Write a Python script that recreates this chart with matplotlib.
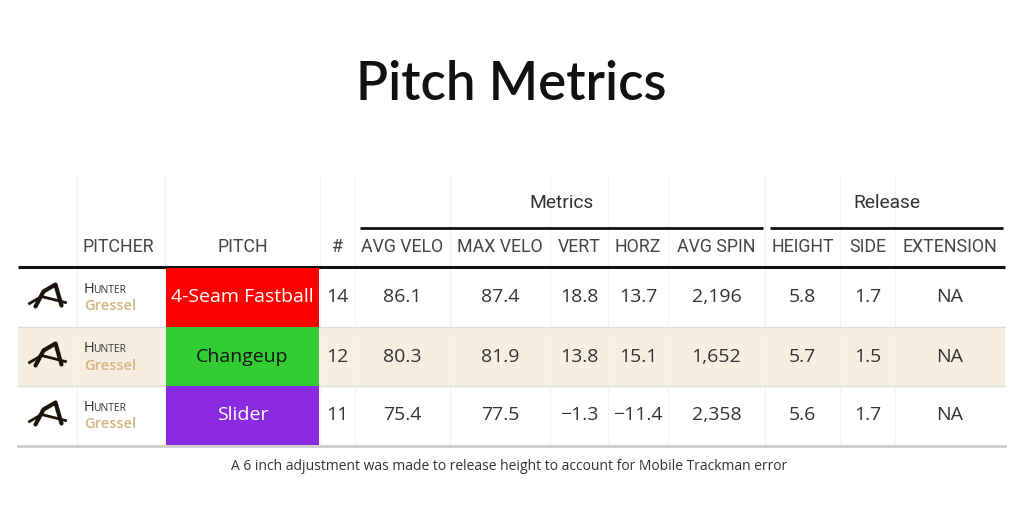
import numpy as np
import matplotlib.pyplot as plt
from matplotlib.patches import Rectangle

# table data
pitcher_first = ['Hunter', 'Hunter', 'Hunter']
pitcher_last = ['Gressel', 'Gressel', 'Gressel']
pitches = ['4-Seam Fastball', 'Changeup', 'Slider']
pitch_colors = ['#ff0000', '#32cd32', '#8a2be2']
pitch_text = ['white', '#111111', 'white']
counts = [14, 12, 11]
avg_velo = [86.1, 80.3, 75.4]
max_velo = [87.4, 81.9, 77.5]
vert = [18.8, 13.8, -1.3]
horz = [13.7, 15.1, -11.4]
avg_spin = [2196, 1652, 2358]
height = [5.8, 5.7, 5.6]
side = [1.7, 1.5, 1.7]
extension = ['NA', 'NA', 'NA']

col_labels = ['', 'PITCHER', 'PITCH', '#', 'AVG VELO', 'MAX VELO', 'VERT', 'HORZ',
              'AVG SPIN', 'HEIGHT', 'SIDE', 'EXTENSION']
col_edges = [18, 77, 165, 320, 355, 450, 550, 608, 668, 765, 840, 895, 1005]
groups = [('Metrics', 4, 8), ('Release', 9, 11)]

FONT = 'Open Sans'
plt.rcParams['font.family'] = [FONT, 'DejaVu Sans']

W, H = 1018, 512
fig = plt.figure(figsize=(W / 100, H / 100), dpi=100)
ax = fig.add_axes([0, 0, 1, 1])
ax.set_xlim(0, W)
ax.set_ylim(H, 0)
ax.axis('off')

ax.text(W / 2 + 2, 84, 'Pitch Metrics', ha='center', va='center', fontsize=38,
        fontweight='semibold', color='#111111', family='Lato')

row_top = 268
row_h = 59
n = len(pitches)

def fmt(v):
    s = f'{v:.1f}'
    return s.replace('-', '\u2212')

# row backgrounds
for i in range(n):
    y0 = row_top + i * row_h
    if i % 2 == 1:
        ax.add_patch(Rectangle((col_edges[0], y0), col_edges[-1] - col_edges[0], row_h,
                               color='#f6eee1', lw=0, zorder=0))
    if i > 0:
        ax.plot([col_edges[0], col_edges[-1]], [y0, y0], color='#dedede', lw=1, zorder=1)

# faint column separators
for x in col_edges[1:-1]:
    ax.plot([x, x], [175, row_top + n * row_h], color='#f2f2f2', lw=0.8, zorder=0.5)

# group headers
for name, c0, c1 in groups:
    xa = col_edges[c0] + 5
    xb = col_edges[c1 + 1] - 2
    ax.text((xa + xb) / 2, 203, name, ha='center', va='center', fontsize=13.8, color='#333333',
            family='Roboto')
    ax.plot([xa, xb], [228, 228], color='#111111', lw=2, solid_capstyle='butt')

# column headers
for j, lab in enumerate(col_labels):
    if not lab:
        continue
    xc = (col_edges[j] + col_edges[j + 1]) / 2
    ha = 'center'
    if j == 1:
        xc = col_edges[j] + 6
        ha = 'left'
    ax.text(xc, 247, lab, ha=ha, va='center', fontsize=12.8, color='#444444', family='Roboto')
ax.plot([col_edges[0], col_edges[-1]], [267, 267], color='#111111', lw=2.2, solid_capstyle='butt')

# body
for i in range(n):
    yc = row_top + i * row_h + row_h / 2
    # logo glyph
    lx = (col_edges[0] + col_edges[1]) / 2
    ax.plot([lx - 12, lx - 4, lx + 8, lx + 14], [yc + 9, yc - 6, yc - 13, yc + 8],
            color='#1b1408', lw=3, solid_capstyle='round')
    ax.plot([lx - 18, lx - 6, lx + 18], [yc + 6, yc - 1, yc + 5], color='#1b1408', lw=2)
    # pitcher name
    px = col_edges[1] + 7
    ax.text(px, yc - 8, pitcher_first[i][0], ha='left', va='center', fontsize=10.5, color='#333333')
    ax.text(px + 9, yc - 7.3, pitcher_first[i][1:].upper(), ha='left', va='center', fontsize=7.5,
            color='#333333')
    ax.text(px, yc + 9, pitcher_last[i], ha='left', va='center', fontsize=10.5,
            fontweight='semibold', color='#d2b57f')
    # pitch cell
    ax.add_patch(Rectangle((col_edges[2] + 1, row_top + i * row_h), col_edges[3] - col_edges[2] - 2,
                           row_h, color=pitch_colors[i], lw=0, zorder=2))
    ax.text((col_edges[2] + col_edges[3]) / 2, yc, pitches[i], ha='center', va='center',
            fontsize=14, color=pitch_text[i], zorder=3)
    vals = [str(counts[i]), fmt(avg_velo[i]), fmt(max_velo[i]), fmt(vert[i]), fmt(horz[i]),
            f'{avg_spin[i]:,}', fmt(height[i]), fmt(side[i]), extension[i]]
    for k, v in enumerate(vals):
        j = k + 3
        xc = (col_edges[j] + col_edges[j + 1]) / 2
        ax.text(xc, yc, v, ha='center', va='center', fontsize=14, color='#333333')

ax.plot([col_edges[0], col_edges[-1]], [row_top + n * row_h + 1] * 2, color='#cccccc', lw=2)

ax.text(W / 2, 466, 'A 6 inch adjustment was made to release height to account for Mobile Trackman error',
        ha='center', va='center', fontsize=10, color='#333333')

fig.savefig('out.png', dpi=100, facecolor='white')
